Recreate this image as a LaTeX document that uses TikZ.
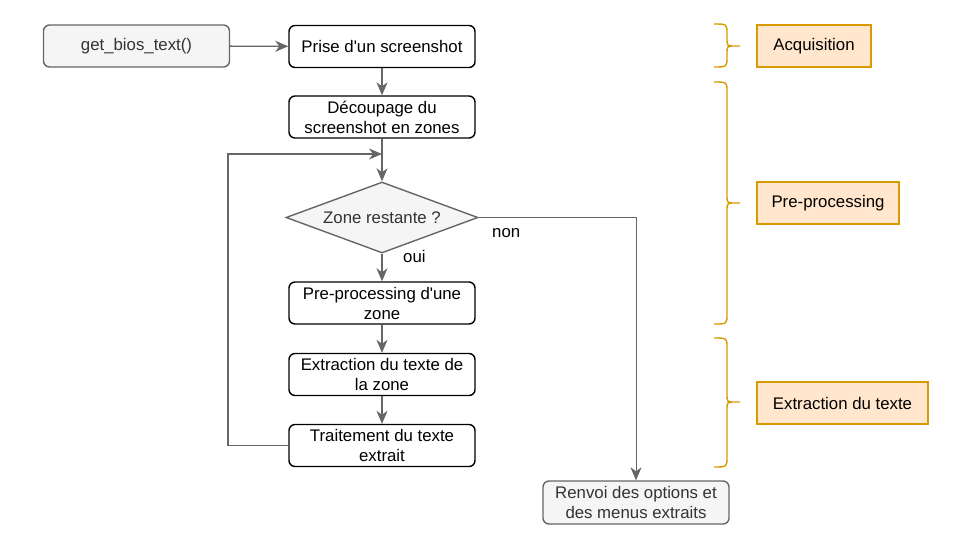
\documentclass[tikz,border=0pt]{standalone}
\usepackage{fontspec}
\setmainfont{Liberation Sans}
\usetikzlibrary{arrows.meta,shapes.geometric,calc}
\definecolor{cgray}{HTML}{666666}
\definecolor{lgray}{HTML}{F5F5F5}
\definecolor{tgray}{HTML}{333333}
\definecolor{oFill}{HTML}{FFE6CC}
\definecolor{oLine}{HTML}{D79B00}
\newcommand\mybrace[3]{%
  \draw[brace] (714,#1) .. controls (727,#1) .. (727,{#1+10}) -- (727,{#2-8})
    .. controls (727,#2) .. (735,#2) -- (740,#2)
    (735,#2) .. controls (727,#2) .. (727,{#2+8}) -- (727,{#3-10})
    .. controls (727,#3) .. (714,#3);}
\begin{document}
\begin{tikzpicture}[x=1pt,y=-1pt, font=\fontsize{16.8}{20}\selectfont,
  box/.style={draw=black, fill=white, rounded corners=6pt, line width=1.4pt,
    minimum width=186pt, minimum height=42pt, align=center, inner sep=2pt},
  gbox/.style={box, draw=cgray, fill=lgray, text=tgray},
  obox/.style={draw=oLine, fill=oFill, line width=1.6pt, minimum height=42pt,
    align=center, inner sep=2pt},
  conn/.style={draw=cgray, line width=1.4pt, -{Stealth[length=13pt,width=11pt,inset=4pt]}},
  brace/.style={draw=oLine, line width=1.4pt},
  lbl/.style={inner sep=0pt, text=black}]
\useasboundingbox (0,0) rectangle (973,550);

\node[gbox] (gb) at (136.5,46) {get\_bios\_text()};
\node[box] (ps) at (382,46.5) {Prise d\textquotesingle un screenshot};
\node[box] (dc) at (382,117) {Découpage du\\screenshot en zones};
\node[draw=cgray, fill=lgray, text=tgray, line width=1.4pt, diamond, aspect=2.7,
  minimum width=192pt, minimum height=71pt, inner sep=1pt] (d) at (382,217.5) {Zone restante ?};
\node[box] (pp) at (382,303) {Pre-processing d\textquotesingle une\\zone};
\node[box] (ex) at (382,374.5) {Extraction du texte de\\la zone};
\node[box] (tr) at (382,445.5) {Traitement du texte\\extrait};
\node[gbox, minimum height=43pt] (rv) at (636,502.5) {Renvoi des options et\\des menus extraits};

\node[obox, minimum width=114pt] (acq) at (814,46) {Acquisition};
\node[obox, minimum width=142pt] (pre) at (828,203) {Pre-processing};
\node[obox, minimum width=171pt] (ext) at (842.5,403) {Extraction du texte};

\mybrace{24}{46}{67}
\mybrace{82}{203}{324}
\mybrace{338}{402}{467}

\coordinate (lc) at (228,154);
\coordinate (mj) at (382,154);

\draw[conn] (gb) -- (ps);
\draw[conn] (ps) -- (dc);
\draw[conn] (dc) -- (d);
\draw[conn] (tr.west) -| (lc) -- (mj);
\draw[conn] (d) -- (pp);
\node[lbl, anchor=base west, xshift=21pt, yshift=-9pt] at (d.south) {oui};
\draw[conn] (pp) -- (ex);
\draw[conn] (ex) -- (tr);
\draw[conn, line width=1pt] (d.east) node[lbl, anchor=base west, xshift=13pt, yshift=-19.5pt]{non} -| (rv.north);
\end{tikzpicture}
\end{document}
